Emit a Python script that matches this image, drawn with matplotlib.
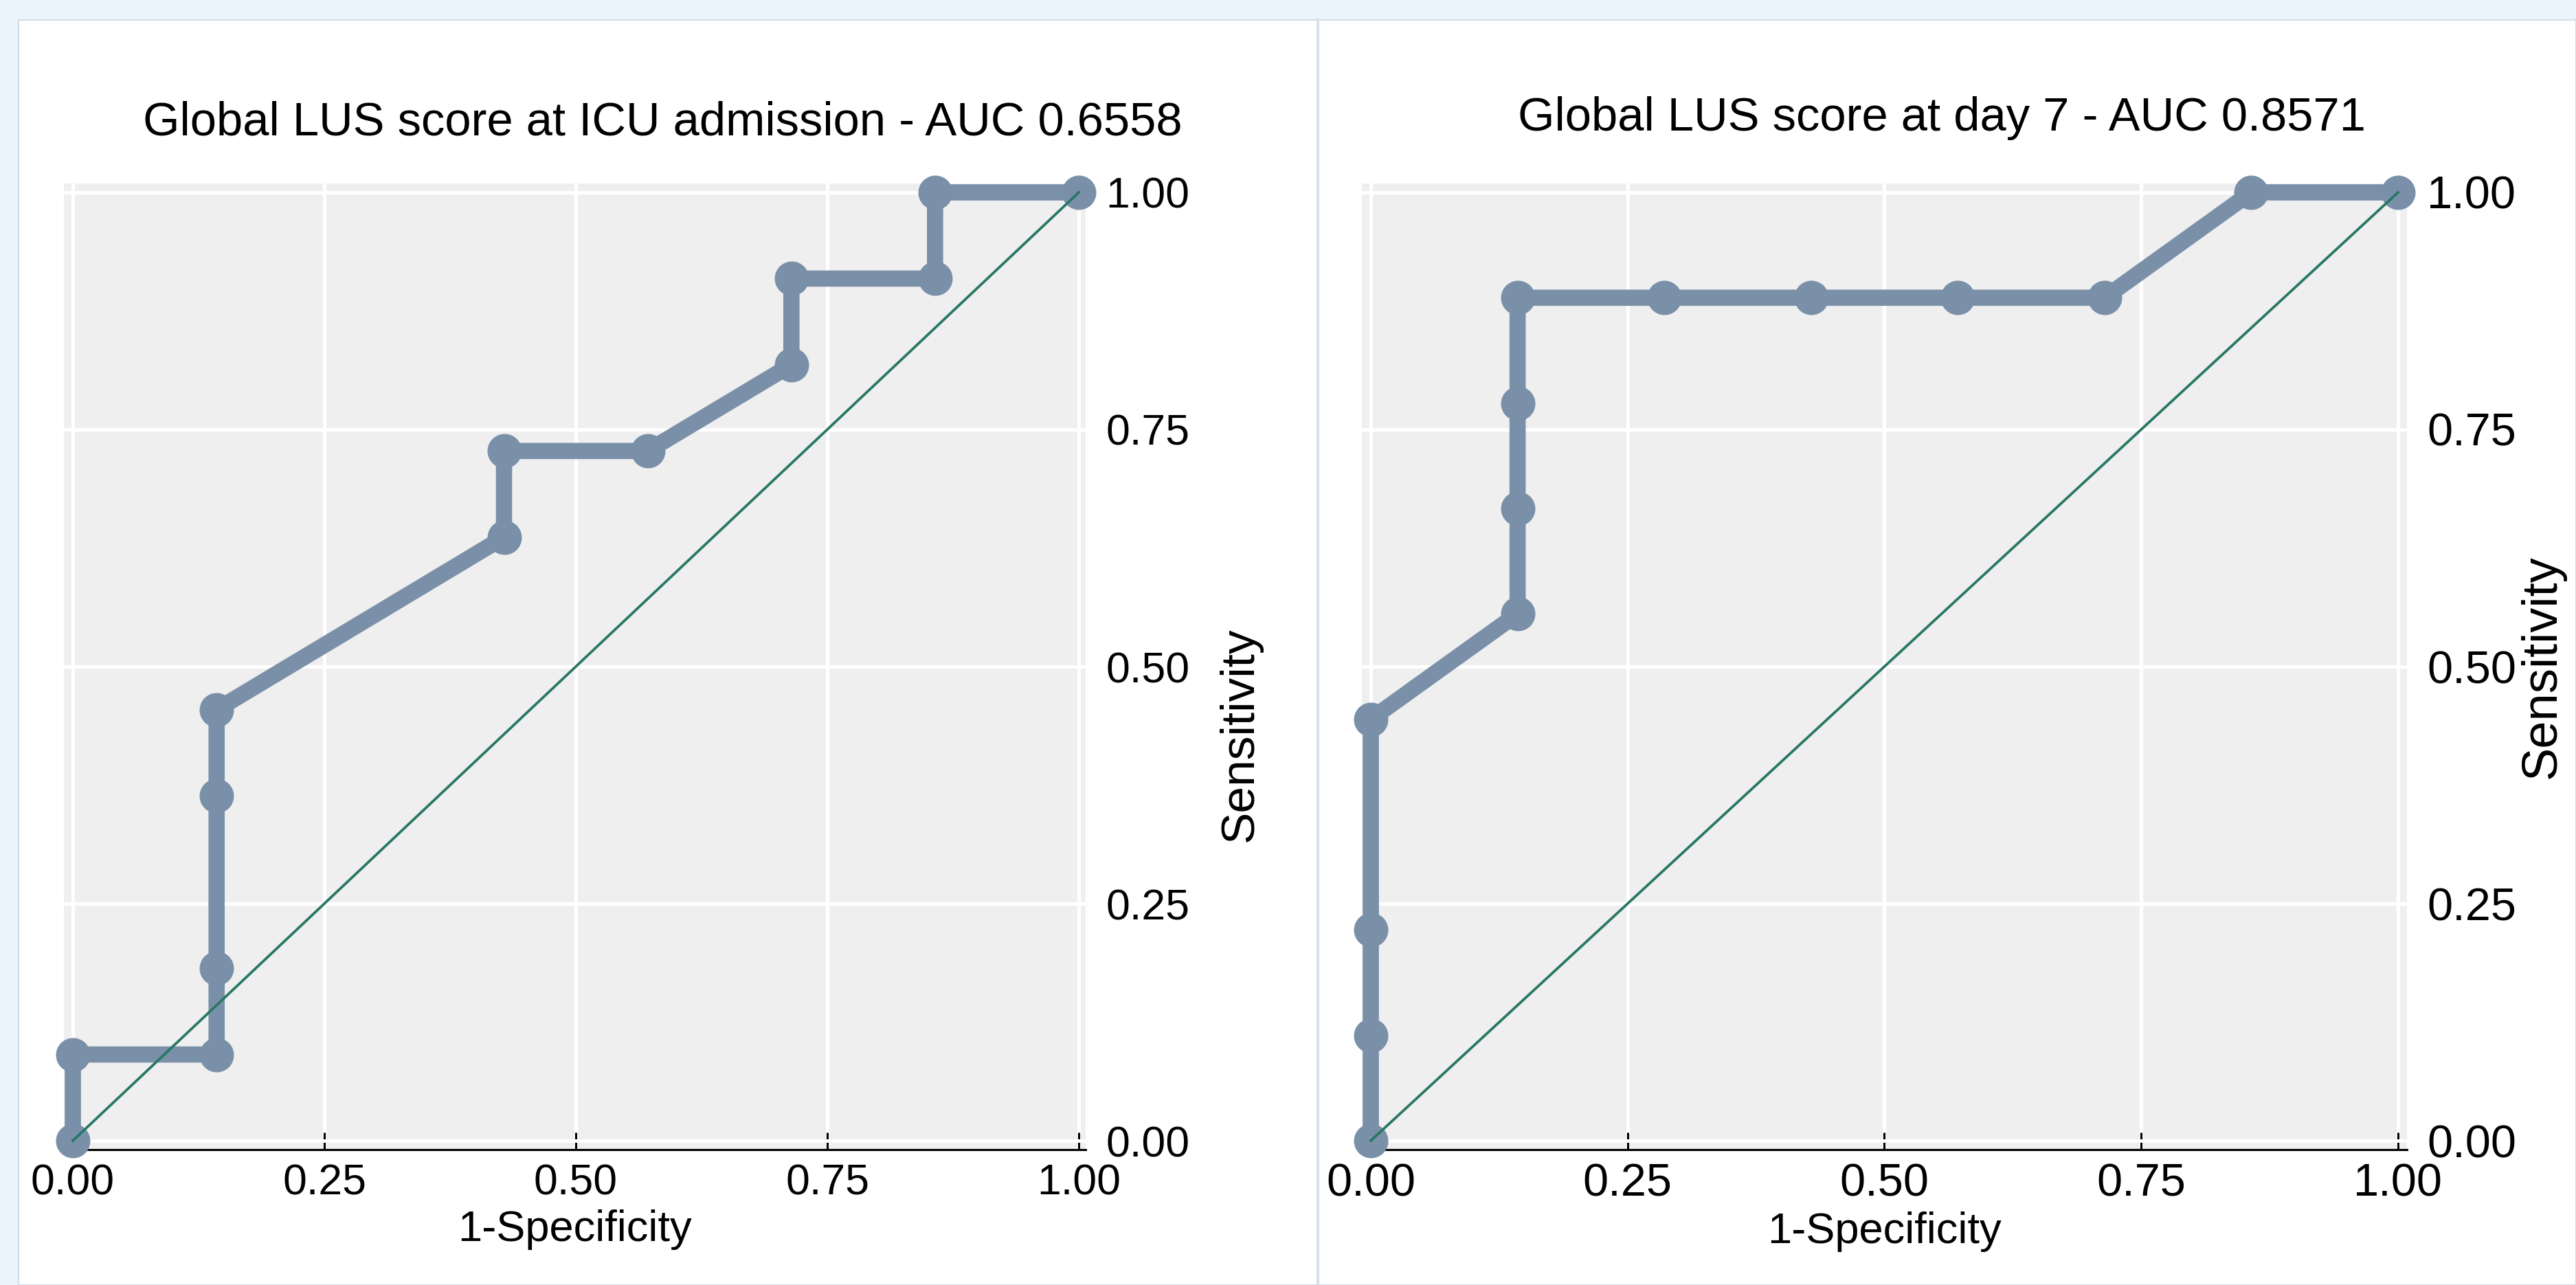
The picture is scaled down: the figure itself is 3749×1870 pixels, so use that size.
import matplotlib
matplotlib.use("Agg")
import matplotlib.pyplot as plt
from matplotlib.patches import Rectangle
from matplotlib.lines import Line2D

plt.rcParams["font.family"] = ["Liberation Sans", "DejaVu Sans"]

# ROC points (1-specificity, sensitivity)
icu_fpr = [0, 0, 0.1429, 0.1429, 0.1429, 0.1429, 0.4286, 0.4286, 0.5714, 0.7143, 0.7143, 0.8571, 0.8571, 1]
icu_tpr = [0, 0.0909, 0.0909, 0.1818, 0.3636, 0.4545, 0.6364, 0.7273, 0.7273, 0.8182, 0.9091, 0.9091, 1, 1]

day7_fpr = [0, 0, 0, 0, 0.1429, 0.1429, 0.1429, 0.1429, 0.2857, 0.4286, 0.5714, 0.7143, 0.8571, 1]
day7_tpr = [0, 0.1111, 0.2222, 0.4444, 0.5556, 0.6667, 0.7778, 0.8889, 0.8889, 0.8889, 0.8889, 0.8889, 1, 1]

titles = ["Global LUS score at ICU admission - AUC 0.6558",
          "Global LUS score at day 7 - AUC 0.8571"]
ticks = [0, 0.25, 0.5, 0.75, 1]
tick_labels = ["0.00", "0.25", "0.50", "0.75", "1.00"]

W, H = 3749, 1870
roc_color = "#7a90a8"
ref_color = "#287765"
plot_bg = "#efefef"

fig = plt.figure(figsize=(W / 100, H / 100), dpi=100, facecolor="#eaf5fb")

# white panels + divider, kept behind the axes
fig.add_artist(Rectangle((27 / W, 0), (W - 27) / W, (H - 29) / H, transform=fig.transFigure,
                         facecolor="white", edgecolor="#d3dde8", linewidth=1.5, zorder=-10))
fig.add_artist(Line2D([1918 / W, 1918 / W], [0, (H - 29) / H], transform=fig.transFigure,
                      color="#d6e0ea", linewidth=3, zorder=-9))


def px_axes(x0, x1, y0, y1):
    # pixel box (top-left origin) -> figure fraction
    return fig.add_axes([x0 / W, (H - y1) / H, (x1 - x0) / W, (y1 - y0) / H])


panels = [
    dict(box=(93, 1580, 267, 1673), xlim=(-0.0089, 1.0068), fpr=icu_fpr, tpr=icu_tpr,
         title=titles[0], tpos=(0.5857, 1.0626), tick_fs=45,
         ylab_pos=(1.151, 0.43), ylab_fs=50),
    dict(box=(1982, 3503, 267, 1673), xlim=(-0.0087, 1.0087), fpr=day7_fpr, tpr=day7_tpr,
         title=titles[1], tpos=(0.555, 1.0676), tick_fs=48,
         ylab_pos=(1.1295, 0.5), ylab_fs=52),
]

for p in panels:
    ax = px_axes(*p["box"])
    ax.set_facecolor(plot_bg)
    ax.set_xlim(*p["xlim"])
    ax.set_ylim(-0.0094, 1.0094)
    ax.set_axisbelow(True)

    ax.plot(p["fpr"], p["tpr"], color=roc_color, linewidth=17, marker="o",
            markersize=35, solid_joinstyle="miter", clip_on=False, zorder=3)
    ax.plot([0, 1], [0, 1], color=ref_color, linewidth=2.7, zorder=4, clip_on=False)

    ax.set_xticks(ticks)
    ax.set_xticklabels(tick_labels)
    ax.set_yticks(ticks)
    ax.set_yticklabels(tick_labels)
    ax.grid(True, color="white", linewidth=3.6)

    for side in ["left", "top", "right"]:
        ax.spines[side].set_visible(False)
    ax.spines["bottom"].set_linewidth(2.2)

    ax.tick_params(axis="x", direction="in", length=18, width=2.2, pad=14,
                   labelsize=p["tick_fs"])
    ax.yaxis.tick_right()
    ax.tick_params(axis="y", length=0, pad=21, labelsize=p["tick_fs"])

    ax.set_xlabel("1-Specificity", fontsize=45.5, labelpad=6)
    ax.set_ylabel("Sensitivity", fontsize=p["ylab_fs"])
    ax.yaxis.set_label_position("right")
    ax.yaxis.label.set_verticalalignment("center")
    ax.yaxis.set_label_coords(*p["ylab_pos"])

    ax.text(p["tpos"][0], p["tpos"][1], p["title"], transform=ax.transAxes,
            ha="center", va="center", fontsize=49.5)

fig.savefig("out.png", dpi=100, facecolor=fig.get_facecolor())
